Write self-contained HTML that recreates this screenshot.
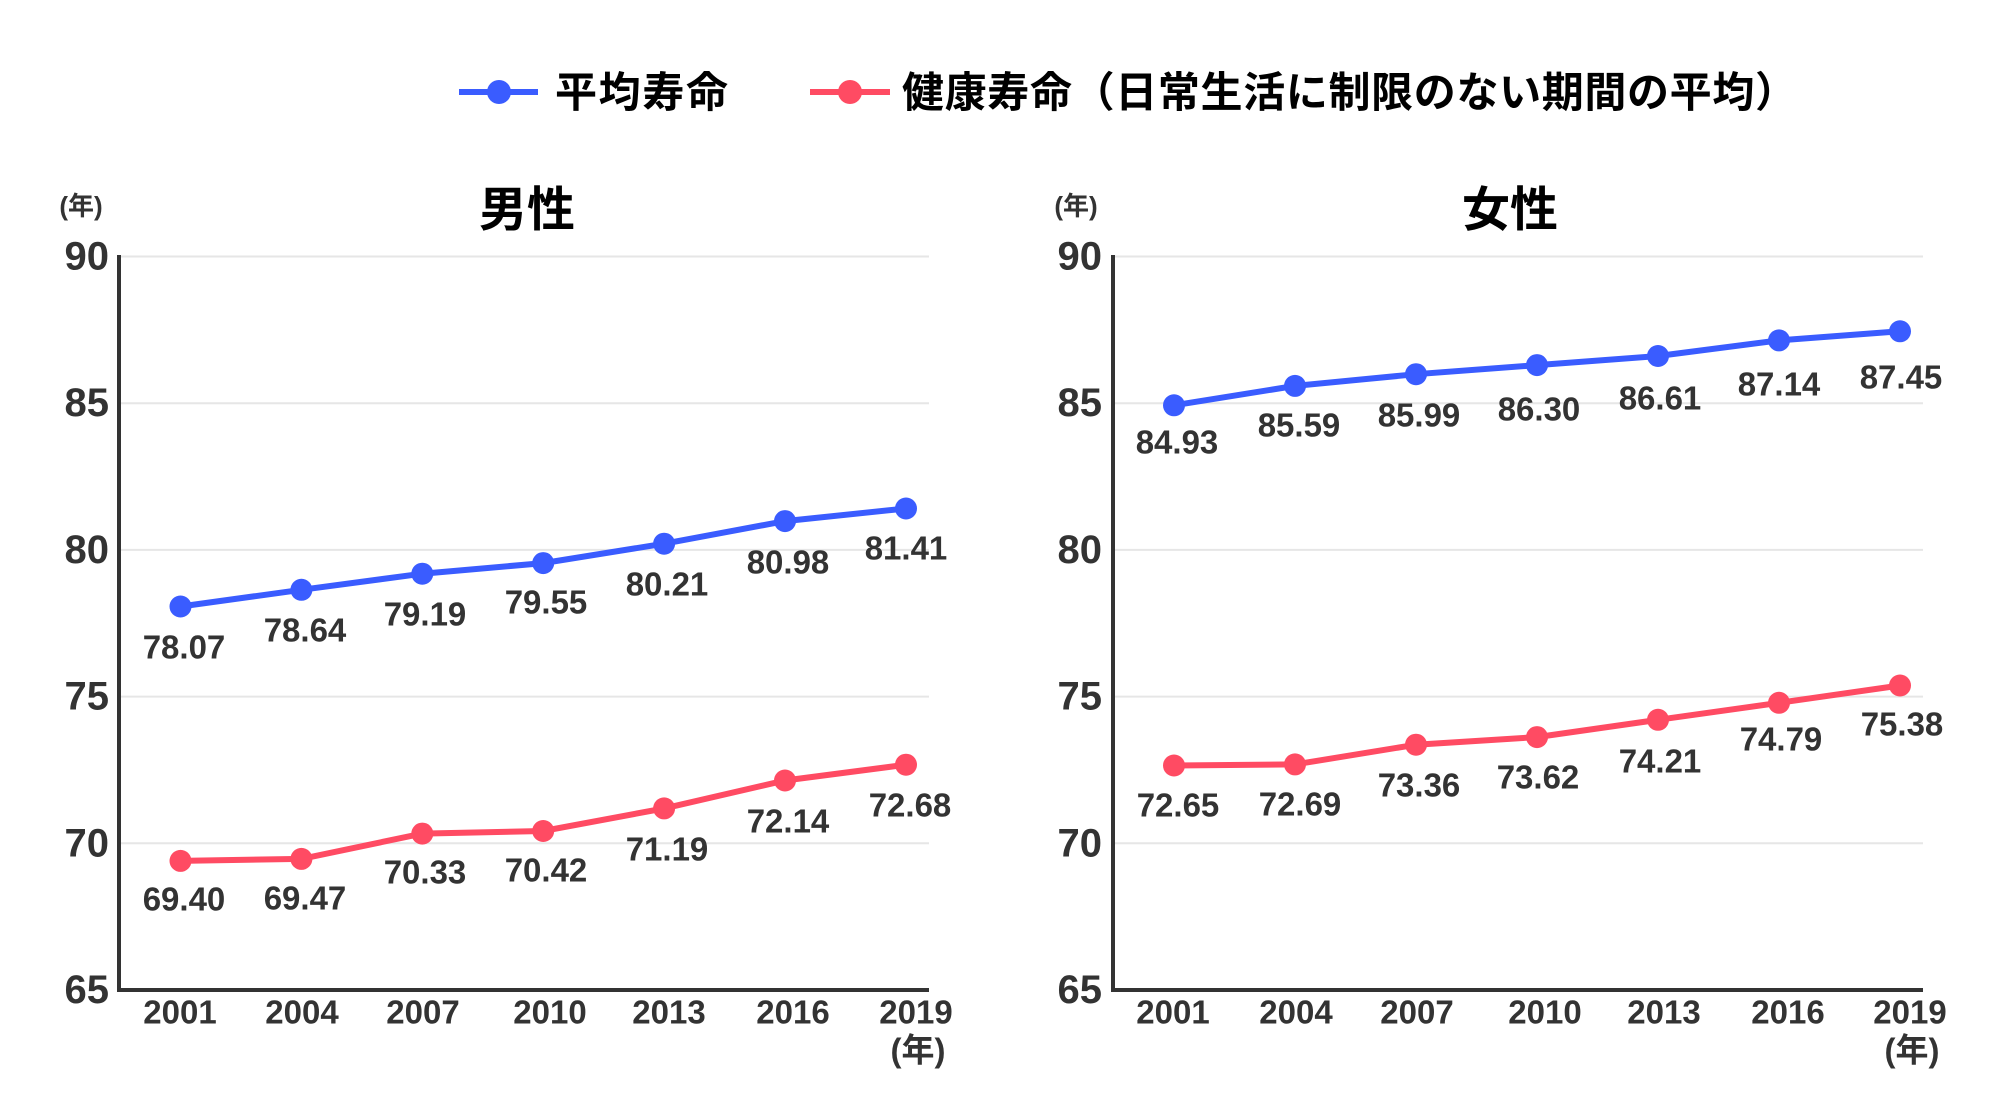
<!DOCTYPE html>
<html><head><meta charset="utf-8"><style>
html,body{margin:0;padding:0;background:#fff;}
svg{display:block;font-family:"Liberation Sans","Noto Sans CJK JP",sans-serif;}
.t{fill:#333;font-weight:bold;}
.dl{fill:#333;font-size:33px;font-weight:bold;text-anchor:middle;dominant-baseline:central;}
.yt{fill:#333;font-size:40px;font-weight:bold;text-anchor:end;dominant-baseline:central;}
.xt{fill:#333;font-size:33px;font-weight:bold;text-anchor:middle;dominant-baseline:central;}
.g{stroke:#e6e6e6;stroke-width:2;}
</style></head><body>
<svg width="2001" height="1115" viewBox="0 0 2001 1115" xmlns="http://www.w3.org/2000/svg">
<line x1="459" y1="92" x2="538" y2="92" stroke="#3a5cff" stroke-width="6"/>
<circle cx="499" cy="92" r="12" fill="#3a5cff"/>
<text x="555" y="107" font-size="42" font-weight="bold" fill="#000" textLength="173">平均寿命</text>
<line x1="810" y1="92" x2="890" y2="92" stroke="#ff4b63" stroke-width="6"/>
<circle cx="850" cy="92" r="12" fill="#ff4b63"/>
<text x="902" y="107" font-size="42" font-weight="bold" fill="#000" textLength="895">健康寿命（日常生活に制限のない期間の平均）</text>

<text x="527" y="226" font-size="48" font-weight="bold" fill="#000" text-anchor="middle">男性</text>
<text x="81" y="206" font-size="26" class="t" text-anchor="middle" dominant-baseline="central">(年)</text>
<g class="g">
<line x1="119" y1="256.5" x2="929" y2="256.5"/><line x1="119" y1="403.2" x2="929" y2="403.2"/>
<line x1="119" y1="549.9" x2="929" y2="549.9"/><line x1="119" y1="696.6" x2="929" y2="696.6"/>
<line x1="119" y1="843.3" x2="929" y2="843.3"/>
</g>
<line x1="119" y1="255" x2="119" y2="990" stroke="#333" stroke-width="4"/>
<line x1="117" y1="990" x2="929" y2="990" stroke="#333" stroke-width="4"/>
<text class="yt" x="109" y="256.5">90</text><text class="yt" x="109" y="403.2">85</text>
<text class="yt" x="109" y="549.9">80</text><text class="yt" x="109" y="696.6">75</text>
<text class="yt" x="109" y="843.3">70</text><text class="yt" x="109" y="990">65</text>
<text class="xt" x="180" y="1012">2001</text><text class="xt" x="302" y="1012">2004</text>
<text class="xt" x="423" y="1012">2007</text><text class="xt" x="550" y="1012">2010</text>
<text class="xt" x="669" y="1012">2013</text><text class="xt" x="793" y="1012">2016</text>
<text class="xt" x="916" y="1012">2019</text><text class="xt" x="918" y="1050" font-size="28">(年)</text>
<polyline fill="none" stroke="#3a5cff" stroke-width="6" points="180.5,606.5 301.4,589.8 422.3,573.7 543.2,563.1 664.1,543.7 785,521.1 906,508.5"/>
<g fill="#3a5cff"><circle cx="180.5" cy="606.5" r="11"/><circle cx="301.4" cy="589.8" r="11"/><circle cx="422.3" cy="573.7" r="11"/><circle cx="543.2" cy="563.1" r="11"/><circle cx="664.1" cy="543.7" r="11"/><circle cx="785" cy="521.1" r="11"/><circle cx="906" cy="508.5" r="11"/></g>
<polyline fill="none" stroke="#ff4b63" stroke-width="6" points="180.5,860.9 301.4,858.9 422.3,833.6 543.2,831 664.1,808.4 785,780.5 906,764.7"/>
<g fill="#ff4b63"><circle cx="180.5" cy="860.9" r="11"/><circle cx="301.4" cy="858.9" r="11"/><circle cx="422.3" cy="833.6" r="11"/><circle cx="543.2" cy="831" r="11"/><circle cx="664.1" cy="808.4" r="11"/><circle cx="785" cy="780.5" r="11"/><circle cx="906" cy="764.7" r="11"/></g>
<text class="dl" x="184" y="647">78.07</text><text class="dl" x="305" y="630">78.64</text>
<text class="dl" x="425" y="614">79.19</text><text class="dl" x="546" y="602">79.55</text>
<text class="dl" x="667" y="584">80.21</text><text class="dl" x="788" y="562">80.98</text>
<text class="dl" x="906" y="548">81.41</text>
<text class="dl" x="184" y="899">69.40</text><text class="dl" x="305" y="898">69.47</text>
<text class="dl" x="425" y="872">70.33</text><text class="dl" x="546" y="870">70.42</text>
<text class="dl" x="667" y="849">71.19</text><text class="dl" x="788" y="821">72.14</text>
<text class="dl" x="910" y="805">72.68</text>

<text x="1510" y="226" font-size="48" font-weight="bold" fill="#000" text-anchor="middle">女性</text>
<text x="1076" y="206" font-size="26" class="t" text-anchor="middle" dominant-baseline="central">(年)</text>
<g class="g">
<line x1="1113" y1="256.5" x2="1923" y2="256.5"/><line x1="1113" y1="403.2" x2="1923" y2="403.2"/>
<line x1="1113" y1="549.9" x2="1923" y2="549.9"/><line x1="1113" y1="696.6" x2="1923" y2="696.6"/>
<line x1="1113" y1="843.3" x2="1923" y2="843.3"/>
</g>
<line x1="1113" y1="255" x2="1113" y2="990" stroke="#333" stroke-width="4"/>
<line x1="1111" y1="990" x2="1923" y2="990" stroke="#333" stroke-width="4"/>
<text class="yt" x="1102" y="256.5">90</text><text class="yt" x="1102" y="403.2">85</text>
<text class="yt" x="1102" y="549.9">80</text><text class="yt" x="1102" y="696.6">75</text>
<text class="yt" x="1102" y="843.3">70</text><text class="yt" x="1102" y="990">65</text>
<text class="xt" x="1173" y="1012">2001</text><text class="xt" x="1296" y="1012">2004</text>
<text class="xt" x="1417" y="1012">2007</text><text class="xt" x="1545" y="1012">2010</text>
<text class="xt" x="1664" y="1012">2013</text><text class="xt" x="1788" y="1012">2016</text>
<text class="xt" x="1910" y="1012">2019</text><text class="xt" x="1912" y="1050" font-size="28">(年)</text>
<polyline fill="none" stroke="#3a5cff" stroke-width="6" points="1174,405.3 1295,385.9 1416,374.2 1537,365.1 1658,356 1779,340.4 1900,331.3"/>
<g fill="#3a5cff"><circle cx="1174" cy="405.3" r="11"/><circle cx="1295" cy="385.9" r="11"/><circle cx="1416" cy="374.2" r="11"/><circle cx="1537" cy="365.1" r="11"/><circle cx="1658" cy="356" r="11"/><circle cx="1779" cy="340.4" r="11"/><circle cx="1900" cy="331.3" r="11"/></g>
<polyline fill="none" stroke="#ff4b63" stroke-width="6" points="1174,765.5 1295,764.4 1416,744.7 1537,737.1 1658,719.8 1779,702.8 1900,685.5"/>
<g fill="#ff4b63"><circle cx="1174" cy="765.5" r="11"/><circle cx="1295" cy="764.4" r="11"/><circle cx="1416" cy="744.7" r="11"/><circle cx="1537" cy="737.1" r="11"/><circle cx="1658" cy="719.8" r="11"/><circle cx="1779" cy="702.8" r="11"/><circle cx="1900" cy="685.5" r="11"/></g>
<text class="dl" x="1177" y="442">84.93</text><text class="dl" x="1299" y="425">85.59</text>
<text class="dl" x="1419" y="415">85.99</text><text class="dl" x="1539" y="409">86.30</text>
<text class="dl" x="1660" y="398">86.61</text><text class="dl" x="1779" y="384">87.14</text>
<text class="dl" x="1901" y="377">87.45</text>
<text class="dl" x="1178" y="805">72.65</text><text class="dl" x="1300" y="804">72.69</text>
<text class="dl" x="1419" y="785">73.36</text><text class="dl" x="1538" y="777">73.62</text>
<text class="dl" x="1660" y="761">74.21</text><text class="dl" x="1781" y="739">74.79</text>
<text class="dl" x="1902" y="724">75.38</text>
</svg>
</body></html>
